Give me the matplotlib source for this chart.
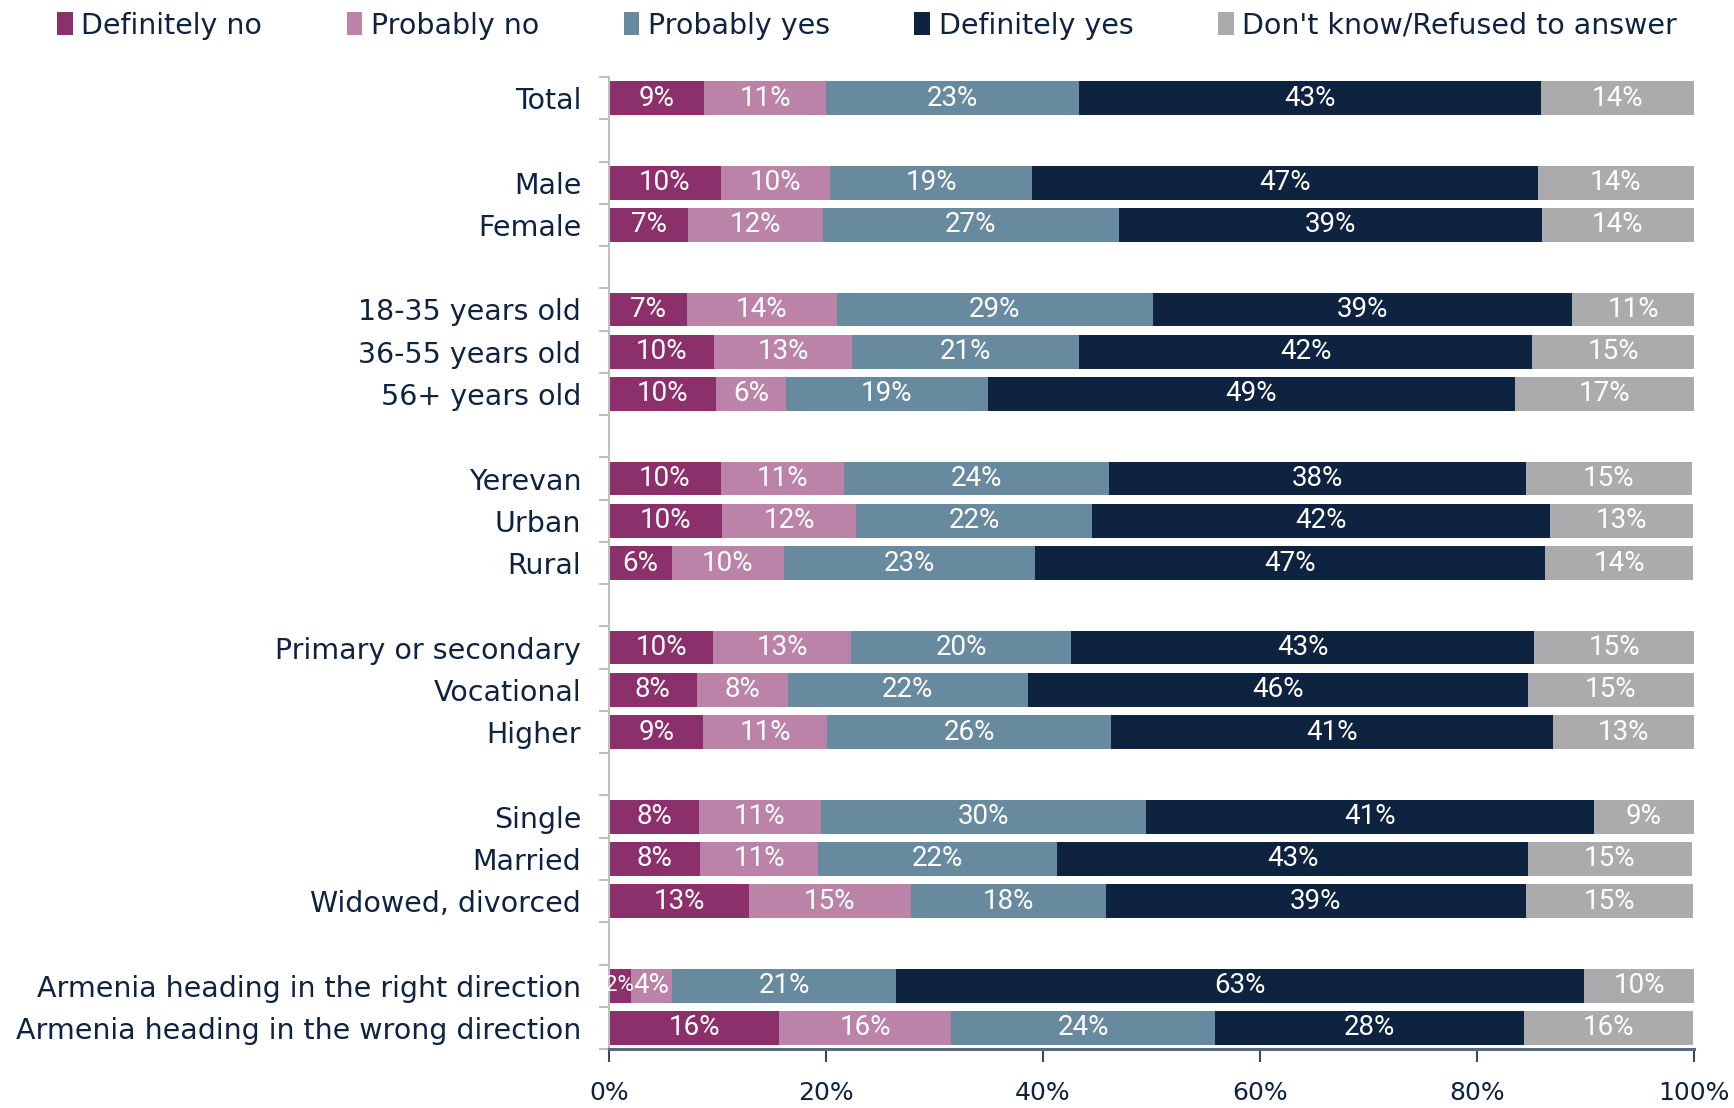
import matplotlib
matplotlib.use("Agg")
import matplotlib.pyplot as plt
from matplotlib.ticker import FixedLocator, PercentFormatter
from matplotlib.patches import Patch
import numpy as np

categories = [
    "Total",
    "Male", "Female",
    "18-35 years old", "36-55 years old", "56+ years old",
    "Yerevan", "Urban", "Rural",
    "Primary or secondary", "Vocational", "Higher",
    "Single", "Married", "Widowed, divorced",
    "Armenia heading in the right direction", "Armenia heading in the wrong direction",
]
group_sizes = [1, 2, 3, 3, 3, 3, 2]

series_names = ["Definitely no", "Probably no", "Probably yes", "Definitely yes",
                "Don't know/Refused to answer"]

definitely_no = [8.8, 10.3, 7.3, 7.2, 9.7, 9.9, 10.3, 10.4, 5.8, 9.6, 8.1, 8.7, 8.3, 8.4, 12.9, 2.0, 15.7]
probably_no   = [11.2, 10.1, 12.4, 13.8, 12.7, 6.4, 11.4, 12.4, 10.3, 12.7, 8.4, 11.4, 11.2, 10.9, 14.9, 3.8, 15.8]
probably_yes  = [23.3, 18.6, 27.3, 29.1, 20.9, 18.6, 24.4, 21.7, 23.2, 20.3, 22.1, 26.2, 30.0, 22.0, 18.0, 20.7, 24.4]
definitely_yes = [42.6, 46.6, 39.0, 38.7, 41.8, 48.6, 38.4, 42.2, 47.0, 42.7, 46.1, 40.7, 41.3, 43.4, 38.7, 63.4, 28.4]
dont_know     = [14.2, 14.4, 14.0, 11.2, 14.9, 16.6, 15.3, 13.2, 13.6, 14.7, 15.3, 13.0, 9.2, 15.1, 15.4, 10.1, 15.6]

x_ticks = [0, 20, 40, 60, 80, 100]

colors = ["#8C306C", "#BB83A8", "#678A9E", "#0E2340", "#ABABAD"]
text_color = "#0E2340"

# row positions: one empty slot between groups
positions = []
slot = 0
for size in group_sizes:
    for _ in range(size):
        positions.append(slot)
        slot += 1
    slot += 1
n_slots = slot - 1
positions = np.array(positions, dtype=float)

plt.rcParams["font.family"] = ["DejaVu Sans"]
bar_font = ["Roboto", "DejaVu Sans"]

fig = plt.figure(figsize=(17.34, 11.08), dpi=100)
ax = fig.add_axes([0.3512, 0.0532, 0.9769 - 0.3512, 0.9305 - 0.0532])

data = [definitely_no, probably_no, probably_yes, definitely_yes, dont_know]
left = np.zeros(len(categories))
for name, vals, col in zip(series_names, data, colors):
    vals = np.array(vals)
    bars = ax.barh(positions, vals, left=left, height=0.8, color=col, label=name,
                   edgecolor="none")
    for b, v in zip(bars, vals):
        cx = b.get_x() + b.get_width() / 2
        cy = b.get_y() + b.get_height() / 2
        size = 20 if v >= 3 else 16
        ax.text(cx, cy, f"{v:.0f}%", ha="center", va="center", color="white",
                family=bar_font, fontsize=size)
    left += vals

ax.set_xlim(0, 100)
ax.set_ylim(n_slots - 0.5, -0.5)

ax.set_yticks(positions)
ax.set_yticklabels(categories, fontsize=20.5, color=text_color)
ax.tick_params(axis="y", which="major", length=0, pad=20)
ax.yaxis.set_minor_locator(FixedLocator(np.arange(-0.5, n_slots, 1.0)))
ax.tick_params(axis="y", which="minor", length=7, width=1.5, color="#BFBFBF", direction="out")

ax.xaxis.set_major_locator(FixedLocator(x_ticks))
ax.xaxis.set_major_formatter(PercentFormatter(decimals=0))
ax.tick_params(axis="x", which="major", length=9, width=1.5, color="#3A4A5E",
               labelsize=18, labelcolor=text_color, pad=14)

for s in ["top", "right"]:
    ax.spines[s].set_visible(False)
ax.spines["left"].set_color("#BFBFBF")
ax.spines["left"].set_linewidth(1.5)
ax.spines["bottom"].set_color("#5A6A7E")
ax.spines["bottom"].set_linewidth(2.2)

handles = [Patch(facecolor=c, edgecolor="none") for c in colors]
fig.legend(handles, series_names, loc="upper center", bbox_to_anchor=(0.5, 1.005),
           ncol=5, frameon=False, fontsize=20.5, labelcolor=text_color,
           handlelength=0.55, handleheight=0.85, handletextpad=0.3, columnspacing=2.97,
           borderaxespad=0.2)

fig.savefig("out.png", dpi=100)
